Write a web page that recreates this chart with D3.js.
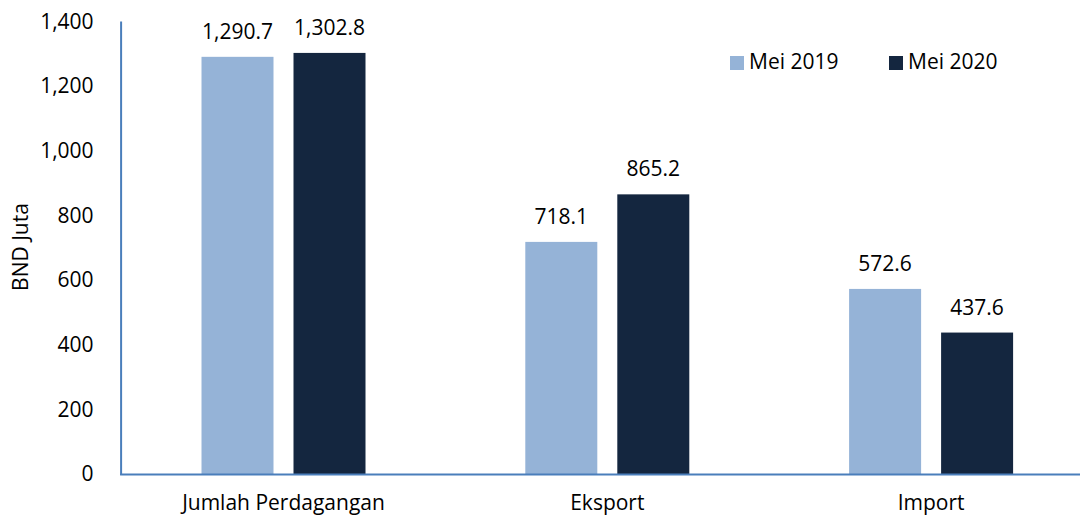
<!DOCTYPE html>
<html>
<head>
<meta charset="utf-8">
<script src="https://cdn.jsdelivr.net/npm/d3@7"></script>
<style>
  html, body { margin: 0; padding: 0; background: #fff; }
  svg { display: block; font-family: "Open Sans", "Noto Sans", sans-serif; }
</style>
</head>
<body>
<svg id="chart" width="1080" height="516"></svg>
<script>
const categories = ["Jumlah Perdagangan", "Eksport", "Import"];
const seriesNames = ["Mei 2019", "Mei 2020"];
const mei2019 = [1290.7, 718.1, 572.6];
const mei2020 = [1302.8, 865.2, 437.6];
const yTicks = [0, 200, 400, 600, 800, 1000, 1200, 1400];
const colors = ["#95b3d7", "#14263f"];

(function () {
const svg = d3.select("#chart");
const plotLeft = 121.6, plotRight = 1093, plotTop = 21.5, plotBottom = 474;
const axisColor = "#4a7ebb";

const y = d3.scaleLinear().domain([0, 1400]).range([plotBottom, plotTop]);

const step = (plotRight - plotLeft) / 3;
const groupW = 164;
const pIn = 1 - groupW / step;
const x0 = d3.scaleBand().domain(categories).range([plotLeft, plotRight])
  .paddingInner(pIn).paddingOuter(pIn / 2);
const x1 = d3.scaleBand().domain(seriesNames).range([0, x0.bandwidth()])
  .paddingInner(2 - groupW / 92).paddingOuter(0);

const data = categories.map((c, i) => ({ cat: c, vals: [mei2019[i], mei2020[i]] }));

// y tick labels
const yAxis = d3.axisLeft(y).tickValues(yTicks).tickSize(0).tickPadding(28)
  .tickFormat(d3.format(","));
const gy = svg.append("g").attr("transform", `translate(${plotLeft},0)`).call(yAxis);
gy.select(".domain").remove();
gy.selectAll("text").attr("font-size", 21).attr("fill", "#000")
  .attr("font-family", "'Open Sans', sans-serif");

// bars
const groups = svg.append("g").selectAll("g").data(data).join("g")
  .attr("transform", d => `translate(${x0(d.cat)},0)`);
groups.selectAll("rect").data(d => d.vals.map((v, j) => ({ v, s: seriesNames[j], j })))
  .join("rect")
  .attr("x", d => x1(d.s))
  .attr("width", x1.bandwidth())
  .attr("y", d => y(d.v))
  .attr("height", d => plotBottom - y(d.v))
  .attr("fill", d => colors[d.j]);
groups.selectAll("text").data(d => d.vals.map((v, j) => ({ v, s: seriesNames[j], j })))
  .join("text")
  .attr("x", d => x1(d.s) + x1.bandwidth() / 2)
  .attr("y", d => y(d.v) - 18)
  .attr("text-anchor", "middle")
  .attr("font-size", 21)
  .attr("fill", "#000")
  .text(d => d3.format(",.1f")(d.v));

// axes lines
svg.append("line").attr("x1", plotLeft - 0.5).attr("x2", plotLeft - 0.5).attr("y1", plotTop).attr("y2", plotBottom + 1)
  .attr("stroke", axisColor).attr("stroke-width", 2);
svg.append("line").attr("x1", plotLeft - 1.5).attr("x2", 1080).attr("y1", plotBottom + 0.5).attr("y2", plotBottom + 0.5)
  .attr("stroke", axisColor).attr("stroke-width", 2);

// category labels
const xAxis = d3.axisBottom(x0).tickSize(0).tickPadding(0);
const gx = svg.append("g").attr("transform", `translate(0,${plotBottom})`).call(xAxis);
gx.select(".domain").remove();
gx.selectAll("text").attr("font-size", 21).attr("fill", "#000")
  .attr("font-family", "'Open Sans', sans-serif")
  .attr("dy", null).attr("y", 36);

// y axis title
svg.append("text")
  .attr("transform", "translate(28,247) rotate(-90)")
  .attr("text-anchor", "middle")
  .attr("font-size", 21)
  .attr("fill", "#000")
  .text("BND Juta");

// legend
const legendX = [730, 889];
const lg = svg.append("g").selectAll("g").data(seriesNames).join("g")
  .attr("transform", (d, i) => `translate(${legendX[i]},0)`);
lg.append("rect").attr("x", 0).attr("y", 56).attr("width", 14).attr("height", 14)
  .attr("fill", (d, i) => colors[i]);
lg.append("text").attr("x", 19).attr("y", 69).attr("font-size", 21).attr("fill", "#000")
  .text(d => d);
})();
</script>
</body>
</html>
